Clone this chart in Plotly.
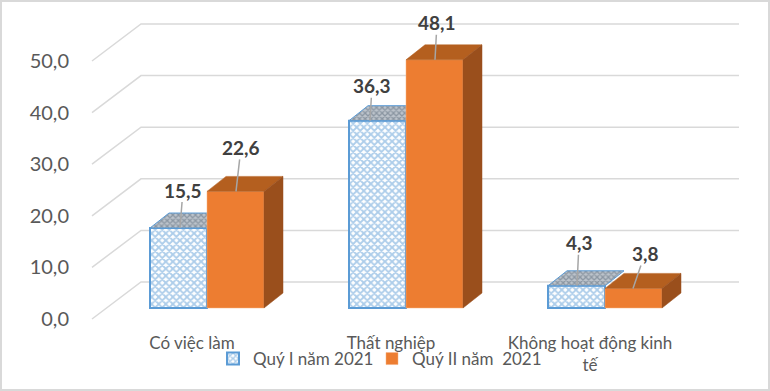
import plotly.graph_objects as go

categories = ["Có việc làm", "Thất nghiệp", "Không hoạt động kinh<br>tế"]
q1_2021 = [15.5, 36.3, 4.3]
q2_2021 = [22.6, 48.1, 3.8]
series_names = ["Quý I năm 2021", "Quý II năm  2021"]
y_ticks = [0, 10, 20, 30, 40, 50]
y_tick_labels = ["0,0", "10,0", "20,0", "30,0", "40,0", "50,0"]
q1_labels = ["15,5", "36,3", "4,3"]
q2_labels = ["22,6", "48,1", "3,8"]

W, H = 770, 391
L, PB = 88, 330           # plot area left edge / bottom edge, px
GROUP = 199.0             # px per category
X0 = 207.0                # px of first category centre
PXU = 5.16                # px per value unit
BW = 57 / GROUP           # bar width
DX_B, DY_B = 19 / GROUP, 15 / PXU   # bar depth
DX_W, DY_W = 49 / GROUP, 37 / PXU   # wall depth
FLOOR, BASE = 319, 308    # y px of zero at wall front and at bar front
WALL_L = (92 - X0) / GROUP
WALL_R = (739 - X0) / GROUP

fig = go.Figure()

# walls / gridlines
for t in y_ticks:
    fig.add_trace(go.Scatter(
        x=[WALL_L, WALL_L + DX_W, WALL_R], y=[t, t + DY_W, t + DY_W],
        mode="lines", line=dict(color="#d9d9d9", width=1.5),
        showlegend=False, hoverinfo="skip", xaxis="x", yaxis="y"))

# Quý I
fig.add_trace(go.Bar(
    x=list(range(3)), y=q1_2021, width=BW, offset=-BW, name=series_names[0],
    marker=dict(color="white", line=dict(color="#5b9bd5", width=2),
                pattern=dict(shape="x", size=5, solidity=0.6,
                             fgcolor="#5b9bd5", bgcolor="white")),
    hoverinfo="skip", xaxis="x", yaxis="y2", legend="legend"))
for i, v in enumerate(q1_2021):
    fig.add_trace(go.Scatter(
        x=[i - BW, i, i + DX_B, i - BW + DX_B, i - BW],
        y=[v, v, v + DY_B, v + DY_B, v],
        mode="lines", fill="toself", fillcolor="#a3abb3",
        fillpattern=dict(shape="x", size=4, solidity=0.55,
                         fgcolor="#5a6a7a", bgcolor="#bcc3cb"),
        line=dict(color="#5b9bd5", width=1),
        showlegend=False, hoverinfo="skip", xaxis="x", yaxis="y2"))

# Quý II
fig.add_trace(go.Bar(
    x=list(range(3)), y=q2_2021, width=BW, offset=0, name=series_names[1],
    marker=dict(color="#ed7d31", line=dict(color="#f4b183", width=0.5)),
    hoverinfo="skip", xaxis="x", yaxis="y3", legend="legend2"))
for i, v in enumerate(q2_2021):
    fig.add_trace(go.Scatter(
        x=[i, i + BW, i + BW + DX_B, i + DX_B, i],
        y=[v, v, v + DY_B, v + DY_B, v],
        mode="lines", fill="toself", fillcolor="#b45f1f",
        line=dict(color="#b45f1f", width=0.5),
        showlegend=False, hoverinfo="skip", xaxis="x", yaxis="y3"))
    fig.add_trace(go.Scatter(
        x=[i + BW, i + BW + DX_B, i + BW + DX_B, i + BW, i + BW],
        y=[0, DY_B, v + DY_B, v, 0],
        mode="lines", fill="toself", fillcolor="#9a4f1c",
        line=dict(color="#9a4f1c", width=0.5),
        showlegend=False, hoverinfo="skip", xaxis="x", yaxis="y3"))

# data labels with leader lines
q1_tip_px = [-27, -36, -28]
q1_text_off = [(3, -38), (2, -35), (2, -43)]
q2_tip_px = [29, 29, 28]
q2_text_off = [(5, -44), (2, -37), (12, -35)]
anns = []
for vals, labels, tips, offs, yref in [
    (q1_2021, q1_labels, q1_tip_px, q1_text_off, "y2"),
    (q2_2021, q2_labels, q2_tip_px, q2_text_off, "y3"),
]:
    for i in range(3):
        anns.append(dict(
            x=i + tips[i] / GROUP, y=vals[i], xref="x", yref=yref,
            text=labels[i], showarrow=True, arrowhead=0, arrowwidth=1.5,
            arrowcolor="#a6a6a6", ax=offs[i][0], ay=offs[i][1],
            font=dict(family="Lato", size=19, color="#404040", weight="bold"),
            borderpad=0, standoff=0))

x_range = [(L - X0) / GROUP, (W - X0) / GROUP]
legend_common = dict(
    orientation="h", xanchor="left", y=(PB - 341) / PB, yanchor="top",
    bgcolor="rgba(0,0,0,0)", font=dict(size=17, color="#595959"), itemwidth=30)
fig.update_layout(
    width=W, height=H,
    margin=dict(l=L, r=0, t=0, b=H - PB),
    autosize=False,
    paper_bgcolor="white", plot_bgcolor="rgba(0,0,0,0)",
    font=dict(family="Lato", color="#595959"),
    hovermode=False,
    annotations=anns,
    xaxis=dict(
        range=x_range, showgrid=False, zeroline=False, showline=False,
        tickmode="array", tickvals=[i - 15 / GROUP for i in range(3)],
        ticktext=categories, ticks="", tickfont=dict(size=17, color="#595959"),
        tickangle=0, fixedrange=True, ticklabelstandoff=1),
    yaxis=dict(
        range=[-(PB - FLOOR) / PXU, FLOOR / PXU], showgrid=False,
        zeroline=False, showline=False, tickmode="array", tickvals=y_ticks,
        ticktext=y_tick_labels, ticks="outside", ticklen=14, tickcolor="white",
        tickfont=dict(size=20, color="#595959"), fixedrange=True),
    yaxis2=dict(
        range=[-(PB - BASE) / PXU, BASE / PXU], overlaying="y", visible=False,
        fixedrange=True),
    yaxis3=dict(
        range=[-(PB - BASE) / PXU, BASE / PXU], overlaying="y", visible=False,
        fixedrange=True),
    legend=dict(x=(213 - L) / (W - L), **legend_common),
    legend2=dict(x=(372 - L) / (W - L), **legend_common),
    shapes=[dict(type="rect", xref="paper", yref="paper",
                 x0=(1 - L) / (W - L), x1=(W - 1 - L) / (W - L),
                 y0=(PB - (H - 1)) / PB, y1=(PB - 1) / PB,
                 line=dict(color="#d9d9d9", width=2), layer="above")],
)

fig.write_html("out.html", config={"displayModeBar": False},
               post_script="document.body.style.margin='0';")
